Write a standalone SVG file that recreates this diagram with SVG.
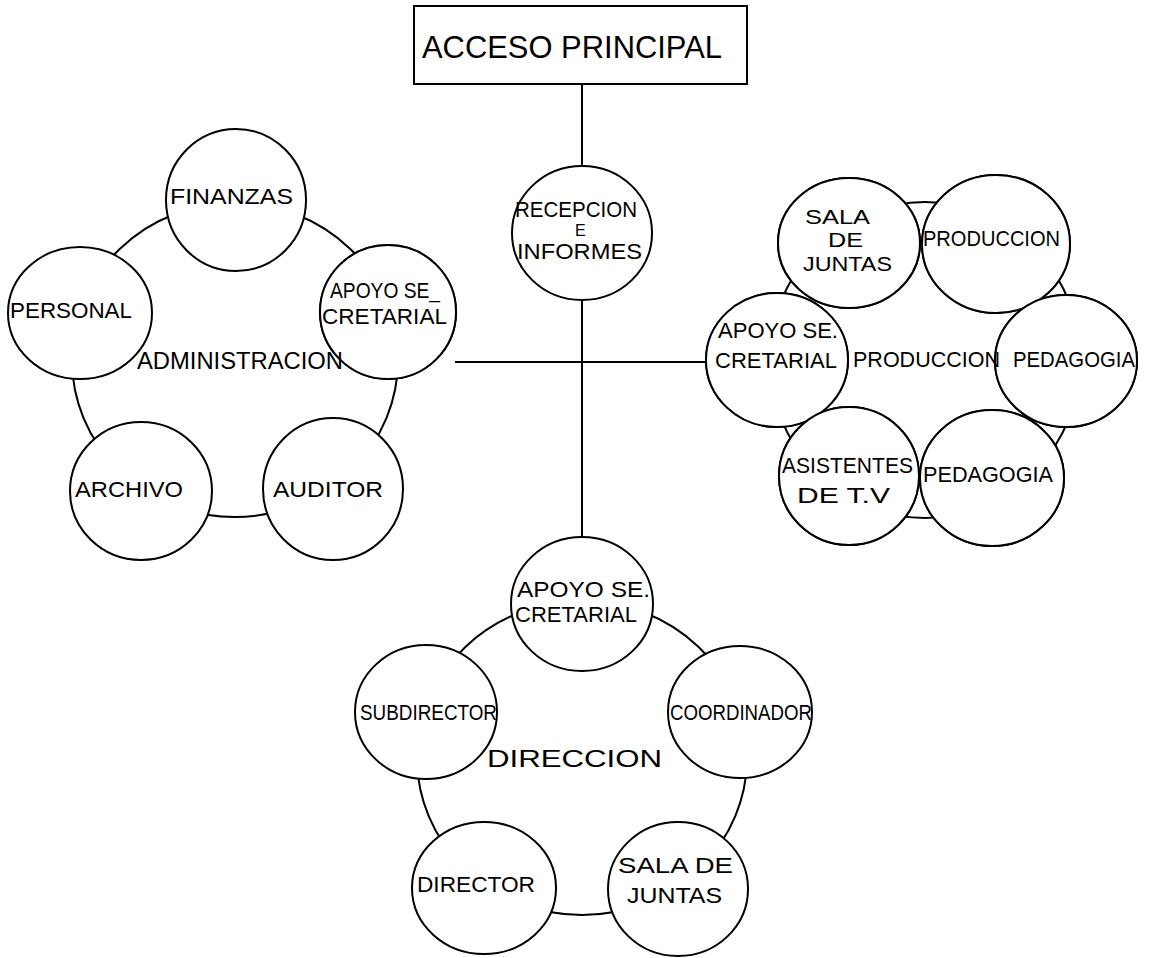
<svg xmlns="http://www.w3.org/2000/svg" xmlns:xlink="http://www.w3.org/1999/xlink" width="1152" height="958" viewBox="0 0 1152 958">
<style>
.bg{fill:#fff}
.ring{fill:none;stroke:#000;stroke-width:2}
.node{fill:#fff;stroke:#000;stroke-width:2}
.ol{fill:none;stroke:#000;stroke-width:2}
.ln{stroke:#000;stroke-width:2;fill:none}
text{font-family:"Liberation Sans",Arial,sans-serif;fill:#000;font-size:22px}
.big{font-size:31px}
.mid{font-size:24px}
.sm{font-size:16px}
.s20{font-size:20px}
</style>
<rect class="bg" x="0" y="0" width="1152" height="958"/>
<g id="connectors">
<line class="ln" x1="582" y1="84" x2="582" y2="166"/>
<line class="ln" x1="582" y1="300" x2="582" y2="537"/>
<line class="ln" x1="455" y1="362" x2="706" y2="362"/>
</g>
<g id="rings">
<ellipse class="ring" cx="235" cy="360" rx="163" ry="157"/>
<ellipse class="ring" cx="925" cy="360" rx="155" ry="158"/>
<ellipse class="ring" cx="582" cy="758" rx="165" ry="157"/>
</g>
<g id="acceso"><rect class="node" x="414" y="6" width="333" height="78"/><text class="big" x="422" y="58" textLength="300" lengthAdjust="spacingAndGlyphs">ACCESO PRINCIPAL</text></g>
<g id="recepcion"><ellipse id="c-rec" class="node" cx="582" cy="233" rx="70" ry="67"/></g>
<g id="finanzas"><ellipse id="c-fin" class="node" cx="236" cy="200" rx="70" ry="71"/></g>
<g id="personal"><ellipse id="c-per" class="node" cx="80" cy="313" rx="72" ry="66"/></g>
<g id="apoyo-adm"><ellipse id="c-apa" class="node" cx="388" cy="312" rx="68" ry="67"/></g>
<g id="archivo"><ellipse id="c-arc" class="node" cx="141" cy="491" rx="71" ry="69"/></g>
<g id="auditor"><ellipse id="c-aud" class="node" cx="333" cy="489" rx="70" ry="71"/></g>
<g id="sala-prod"><ellipse id="c-sal" class="node" cx="849" cy="243" rx="71" ry="65"/></g>
<g id="produccion-n"><ellipse id="c-pro" class="node" cx="996" cy="244" rx="74" ry="69"/></g>
<g id="apoyo-prod"><ellipse id="c-app" class="node" cx="777" cy="360" rx="71" ry="67"/></g>
<g id="pedagogia-1"><ellipse id="c-pe1" class="node" cx="1066" cy="361" rx="71" ry="66"/></g>
<g id="asistentes"><ellipse id="c-asi" class="node" cx="849" cy="476" rx="70" ry="69"/></g>
<g id="pedagogia-2"><ellipse id="c-pe2" class="node" cx="992" cy="478" rx="72" ry="68"/></g>
<g id="apoyo-dir"><ellipse id="c-apd" class="node" cx="582" cy="604" rx="71" ry="67"/></g>
<g id="subdirector"><ellipse id="c-sub" class="node" cx="426" cy="712" rx="71" ry="67"/></g>
<g id="coordinador"><ellipse id="c-coo" class="node" cx="740" cy="712" rx="72" ry="66"/></g>
<g id="director"><ellipse id="c-dir" class="node" cx="484" cy="888" rx="72" ry="66"/></g>
<g id="sala-dir"><ellipse id="c-sad" class="node" cx="678" cy="889" rx="70" ry="67"/></g>
<g id="outlines">
<use xlink:href="#c-sal" class="ol"/><use xlink:href="#c-pro" class="ol"/><use xlink:href="#c-app" class="ol"/><use xlink:href="#c-pe1" class="ol"/><use xlink:href="#c-asi" class="ol"/><use xlink:href="#c-pe2" class="ol"/><use xlink:href="#c-apa" class="ol"/>
</g>
<g id="labels">
<text x="515" y="217" textLength="122" lengthAdjust="spacingAndGlyphs">RECEPCION</text>
<text class="sm" x="575" y="236">E</text>
<text x="517" y="259" textLength="125" lengthAdjust="spacingAndGlyphs">INFORMES</text>
<text x="170" y="204" textLength="123" lengthAdjust="spacingAndGlyphs">FINANZAS</text>
<text x="10" y="318" textLength="122" lengthAdjust="spacingAndGlyphs">PERSONAL</text>
<text x="330" y="298" textLength="110" lengthAdjust="spacingAndGlyphs">APOYO SE_</text>
<text x="322" y="324" textLength="125" lengthAdjust="spacingAndGlyphs">CRETARIAL</text>
<text class="mid" x="137" y="369" textLength="206" lengthAdjust="spacingAndGlyphs">ADMINISTRACION</text>
<text x="75" y="497" textLength="108" lengthAdjust="spacingAndGlyphs">ARCHIVO</text>
<text x="273" y="497" textLength="110" lengthAdjust="spacingAndGlyphs">AUDITOR</text>
<text class="s20" x="805" y="224" textLength="65" lengthAdjust="spacingAndGlyphs">SALA</text>
<text class="s20" x="828" y="247" textLength="35" lengthAdjust="spacingAndGlyphs">DE</text>
<text class="s20" x="803" y="271" textLength="89" lengthAdjust="spacingAndGlyphs">JUNTAS</text>
<text x="923" y="246" textLength="137" lengthAdjust="spacingAndGlyphs">PRODUCCION</text>
<text x="718" y="338" textLength="120" lengthAdjust="spacingAndGlyphs">APOYO SE.</text>
<text x="715" y="368" textLength="122" lengthAdjust="spacingAndGlyphs">CRETARIAL</text>
<text x="853" y="367" textLength="147" lengthAdjust="spacingAndGlyphs">PRODUCCION</text>
<text x="1013" y="367" textLength="122" lengthAdjust="spacingAndGlyphs">PEDAGOGIA</text>
<text x="782" y="473" textLength="131" lengthAdjust="spacingAndGlyphs">ASISTENTES</text>
<text x="797" y="503" textLength="93" lengthAdjust="spacingAndGlyphs">DE  T.V</text>
<text x="923" y="482" textLength="130" lengthAdjust="spacingAndGlyphs">PEDAGOGIA</text>
<text x="517" y="597" textLength="133" lengthAdjust="spacingAndGlyphs">APOYO SE.</text>
<text x="515" y="622" textLength="122" lengthAdjust="spacingAndGlyphs">CRETARIAL</text>
<text x="360" y="720" textLength="137" lengthAdjust="spacingAndGlyphs">SUBDIRECTOR</text>
<text x="670" y="720" textLength="142" lengthAdjust="spacingAndGlyphs">COORDINADOR</text>
<text class="mid" x="487" y="767" textLength="175" lengthAdjust="spacingAndGlyphs">DIRECCION</text>
<text x="417" y="892" textLength="118" lengthAdjust="spacingAndGlyphs">DIRECTOR</text>
<text x="618" y="873" textLength="115" lengthAdjust="spacingAndGlyphs">SALA DE</text>
<text x="627" y="903" textLength="95" lengthAdjust="spacingAndGlyphs">JUNTAS</text>
</g>
</svg>
